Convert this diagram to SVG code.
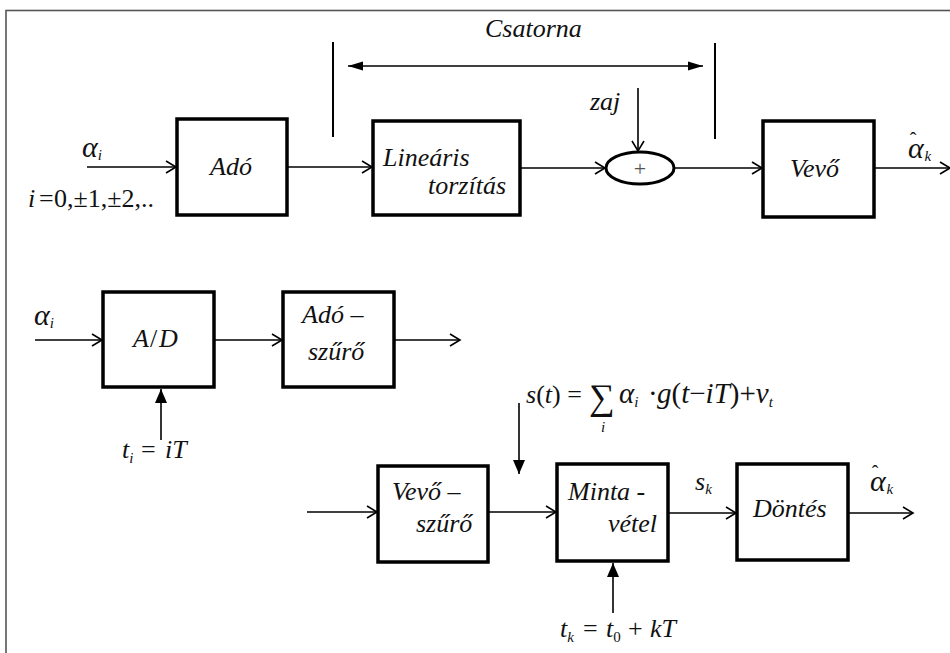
<svg xmlns="http://www.w3.org/2000/svg" width="950" height="653" viewBox="0 0 950 653" font-family="Liberation Serif, Times New Roman, serif">
<style>
.box{fill:#fff;stroke:#000;stroke-width:3.5}
.ln{fill:none;stroke:#000;stroke-width:1.6}
.bar{fill:none;stroke:#000;stroke-width:2}
.t{font-style:italic;font-size:26px;fill:#111}
.u{font-style:normal}
.sub{font-size:15px}
</style>
<defs>
<marker id="open" markerUnits="userSpaceOnUse" markerWidth="14" markerHeight="14" refX="11" refY="7" orient="auto">
<path d="M1,1 L11,7 L1,13" fill="none" stroke="#000" stroke-width="1.6"/>
</marker>
<marker id="fill" markerUnits="userSpaceOnUse" markerWidth="14" markerHeight="12" refX="14" refY="6" orient="auto">
<path d="M0,0 L14,6 L0,12 z" fill="#000"/>
</marker>
<marker id="fillw" markerUnits="userSpaceOnUse" markerWidth="15" markerHeight="10" refX="15" refY="5" orient="auto-start-reverse">
<path d="M0,0.5 L15,5 L0,9.5 z" fill="#000"/>
</marker>
</defs>
<rect x="6" y="10.5" width="960" height="660" fill="none" stroke="#555" stroke-width="1.6"/>

<g id="connectors">
<line class="ln" x1="87" y1="167" x2="176" y2="167" marker-end="url(#open)"/>
<line class="ln" x1="288" y1="167" x2="372" y2="167" marker-end="url(#open)"/>
<line class="ln" x1="521" y1="168" x2="605" y2="168" marker-end="url(#open)"/>
<line class="ln" x1="638" y1="88" x2="638" y2="151" marker-end="url(#open)"/>
<line class="ln" x1="674" y1="168" x2="762" y2="168" marker-end="url(#open)"/>
<line class="ln" x1="875" y1="168" x2="950" y2="168" marker-end="url(#open)"/>
<line class="bar" x1="333" y1="42" x2="333" y2="137"/>
<line class="bar" x1="715" y1="43" x2="715" y2="139"/>
<line class="ln" x1="348" y1="66" x2="703" y2="66" marker-start="url(#fillw)" marker-end="url(#fillw)"/>
<line class="ln" x1="35" y1="340" x2="102" y2="340" marker-end="url(#open)"/>
<line class="ln" x1="215" y1="340" x2="282" y2="340" marker-end="url(#open)"/>
<line class="ln" x1="395" y1="340" x2="460" y2="340" marker-end="url(#open)"/>
<line class="ln" x1="161" y1="440" x2="161" y2="389" marker-end="url(#fill)"/>
<line class="ln" x1="307" y1="512" x2="377" y2="512" marker-end="url(#open)"/>
<line class="ln" x1="489" y1="512" x2="556" y2="512" marker-end="url(#open)"/>
<line class="ln" x1="519" y1="403" x2="519" y2="474" marker-end="url(#fill)"/>
<line class="ln" x1="669" y1="513" x2="736" y2="513" marker-end="url(#open)"/>
<line class="ln" x1="849" y1="513" x2="913" y2="513" marker-end="url(#open)"/>
<line class="ln" x1="613" y1="613" x2="613" y2="563" marker-end="url(#fill)"/>
</g>

<g id="ado">
<rect class="box" x="177" y="119" width="110" height="96"/>
<text class="t" x="231" y="175" text-anchor="middle">Adó</text>
</g>
<g id="linearis">
<rect class="box" x="373" y="121" width="147" height="94"/>
<text class="t" x="383" y="166">Lineáris</text>
<text class="t" x="428" y="194">torzítás</text>
</g>
<g id="osszeg">
<ellipse cx="640" cy="168" rx="34" ry="16" fill="#fff" stroke="#000" stroke-width="3"/>
<text class="t u" x="640" y="176" text-anchor="middle" style="font-size:22px;fill:#555">+</text>
</g>
<g id="vevo">
<rect class="box" x="763" y="121" width="111" height="96"/>
<text class="t" x="790" y="177">Vevő</text>
</g>
<g id="ad">
<rect class="box" x="103" y="292" width="111" height="95"/>
<text class="t" y="347"><tspan x="133">A</tspan><tspan class="u" x="150">/</tspan><tspan x="159">D</tspan></text>
</g>
<g id="adoszuro">
<rect class="box" x="283" y="292" width="111" height="95"/>
<text class="t" x="302" y="323">Adó –</text>
<text class="t" x="308" y="360">szűrő</text>
</g>
<g id="vevoszuro">
<rect class="box" x="378" y="466" width="110" height="96"/>
<text class="t" x="392" y="500">Vevő –</text>
<text class="t" x="416" y="532">szűrő</text>
</g>
<g id="mintavetel">
<rect class="box" x="557" y="464" width="111" height="97"/>
<text class="t" x="568" y="500">Minta -</text>
<text class="t" x="608" y="532">vétel</text>
</g>
<g id="dontes">
<rect class="box" x="737" y="464" width="111" height="96"/>
<text class="t" x="753" y="517">Döntés</text>
</g>

<g id="labels">
<text class="t" x="485" y="37">Csatorna</text>
<text class="t" x="590" y="110">zaj</text>
<text class="t" x="82" y="157" style="font-size:30px">α<tspan class="sub" dy="3">i</tspan></text>
<text class="t" y="207"><tspan x="28">i</tspan><tspan class="u" x="39">=</tspan><tspan class="u" x="54">0,±1,±2,..</tspan></text>
<text class="t" x="908" y="158" style="font-size:30px">α<tspan class="u" dx="-14" dy="-11" style="font-size:20px">ˆ</tspan><tspan class="sub" dx="8" dy="14">k</tspan></text>
<text class="t" x="34" y="325" style="font-size:30px">α<tspan class="sub" dy="3">i</tspan></text>
<text class="t" y="458"><tspan x="122">t</tspan><tspan class="sub" dy="5">i</tspan><tspan class="u" x="141" dy="-5">=</tspan><tspan x="165">iT</tspan></text>
<text class="t" y="403"><tspan x="526">s</tspan><tspan class="u">(</tspan>t<tspan class="u">) =</tspan></text>
<text class="t u" x="589" y="409" style="font-size:36px">∑</text>
<text class="t sub" x="601" y="432">i</text>
<text class="t" y="403" style="font-size:29px"><tspan x="619">α</tspan><tspan class="sub" dy="4">i</tspan><tspan class="u" x="648" dy="-4">·</tspan><tspan x="657">g</tspan><tspan class="u">(</tspan>t<tspan class="u">−</tspan>iT<tspan class="u">)+</tspan>ν<tspan class="sub" dy="4">t</tspan></text>
<text class="t" x="695" y="490">s<tspan class="sub" dy="4">k</tspan></text>
<text class="t" x="870" y="491" style="font-size:30px">α<tspan class="u" dx="-14" dy="-11" style="font-size:20px">ˆ</tspan><tspan class="sub" dx="8" dy="14">k</tspan></text>
<text class="t" y="637"><tspan x="560">t</tspan><tspan class="sub" dy="5">k</tspan><tspan class="u" x="583" dy="-5">=</tspan><tspan x="606">t</tspan><tspan class="sub u" dy="5">0</tspan><tspan class="u" x="628" dy="-5">+</tspan><tspan x="650">kT</tspan></text>
</g>
</svg>
